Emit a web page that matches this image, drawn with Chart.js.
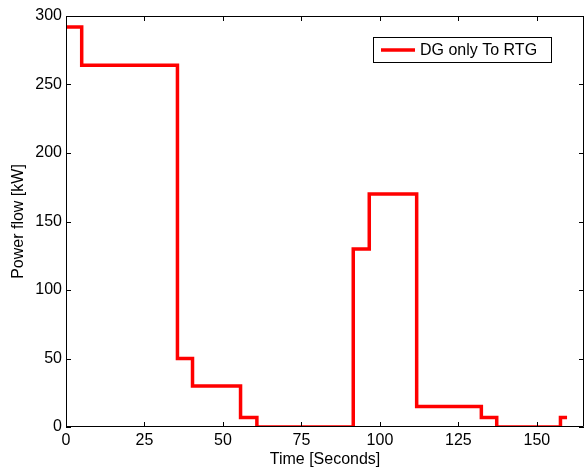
<!DOCTYPE html>
<html>
<head>
<meta charset="utf-8">
<script src="https://cdn.jsdelivr.net/npm/chart.js@4/dist/chart.umd.min.js"></script>
<style>
  html, body { margin: 0; padding: 0; background: #fff; }
  #wrap { width: 585px; height: 471px; }
</style>
</head>
<body>
<div id="wrap"><canvas id="c" width="585" height="471"></canvas></div>
<script>
// Step profile of power delivered from the DG to the RTG
const seriesLabel = 'DG only To RTG';
const timeSeconds = [0, 5, 35.5, 40.3, 55.6, 60.8, 91.5, 96.6, 111.7, 132.3, 137.2, 157.5, 159.6];
const powerKW     = [292, 264, 50, 30, 7, 0, 130, 170, 15, 7, 0, 7, 7];
const xTickStep = 25;
const yTickStep = 50;

const FONT = '"Liberation Sans", Arial, Helvetica, sans-serif';
const FONT_SIZE = 16;

// Box around the plot with inward tick marks on all four sides, plus the legend
const boxTicks = {
  id: 'boxTicks',
  afterDraw(chart) {
    const { ctx, chartArea: a, scales } = chart;
    ctx.save();
    ctx.strokeStyle = '#000';
    ctx.lineWidth = 1;
    ctx.beginPath();
    ctx.rect(a.left + 0.5, a.top + 0.5, a.right - a.left - 1, a.bottom - a.top - 1);
    const len = 5;
    scales.x.ticks.forEach(t => {
      const px = Math.round(scales.x.getPixelForValue(t.value)) + 0.5;
      ctx.moveTo(px, a.bottom); ctx.lineTo(px, a.bottom - len);
      ctx.moveTo(px, a.top); ctx.lineTo(px, a.top + len);
    });
    scales.y.ticks.forEach(t => {
      const py = Math.round(scales.y.getPixelForValue(t.value)) + 0.5;
      ctx.moveTo(a.left, py); ctx.lineTo(a.left + len, py);
      ctx.moveTo(a.right, py); ctx.lineTo(a.right - len, py);
    });
    ctx.stroke();

    const ds = chart.data.datasets[0];
    const bx = 373.5, by = 37.5, bw = 178, bh = 25;
    ctx.fillStyle = '#fff';
    ctx.fillRect(bx, by, bw, bh);
    ctx.strokeRect(bx, by, bw, bh);
    ctx.strokeStyle = ds.borderColor;
    ctx.lineWidth = ds.borderWidth;
    ctx.beginPath();
    ctx.moveTo(381, by + bh / 2);
    ctx.lineTo(415, by + bh / 2);
    ctx.stroke();
    ctx.fillStyle = '#000';
    ctx.font = FONT_SIZE + 'px ' + FONT;
    ctx.textBaseline = 'middle';
    ctx.textAlign = 'left';
    ctx.fillText(ds.label, 420, by + bh / 2 + 1);
    ctx.restore();
  }
};

new Chart(document.getElementById('c'), {
  type: 'line',
  data: {
    datasets: [{
      label: seriesLabel,
      data: timeSeconds.map((t, i) => ({ x: t, y: powerKW[i] })),
      borderColor: '#ff0000',
      borderWidth: 3.5,
      stepped: 'before',
      pointRadius: 0,
      fill: false,
      clip: { left: 2, top: 2, right: 2, bottom: 0 }
    }]
  },
  options: {
    responsive: false,
    animation: false,
    layout: { padding: { top: 16, right: 1, left: 0, bottom: 0 } },
    plugins: { legend: { display: false }, tooltip: { enabled: false } },
    scales: {
      x: {
        type: 'linear',
        min: 0, max: 165,
        border: { display: false },
        grid: { display: false, drawTicks: false },
        ticks: { stepSize: xTickStep, includeBounds: false, color: '#000', padding: 4, maxRotation: 0,
                 font: { family: FONT, size: FONT_SIZE } },
        title: { display: true, text: 'Time [Seconds]', color: '#000', padding: { top: 0, bottom: 2 },
                 font: { family: FONT, size: FONT_SIZE } },
        afterFit(s) { s.height = 44; }
      },
      y: {
        type: 'linear',
        min: 0, max: 300,
        border: { display: false },
        grid: { display: false, drawTicks: false },
        ticks: { stepSize: yTickStep, color: '#000', padding: 4,
                 font: { family: FONT, size: FONT_SIZE } },
        title: { display: true, text: 'Power flow [kW]', color: '#000', padding: { top: 9, bottom: 0 },
                 font: { family: FONT, size: FONT_SIZE } },
        afterFit(s) { s.width = 66; }
      }
    }
  },
  plugins: [boxTicks]
});
</script>
</body>
</html>
